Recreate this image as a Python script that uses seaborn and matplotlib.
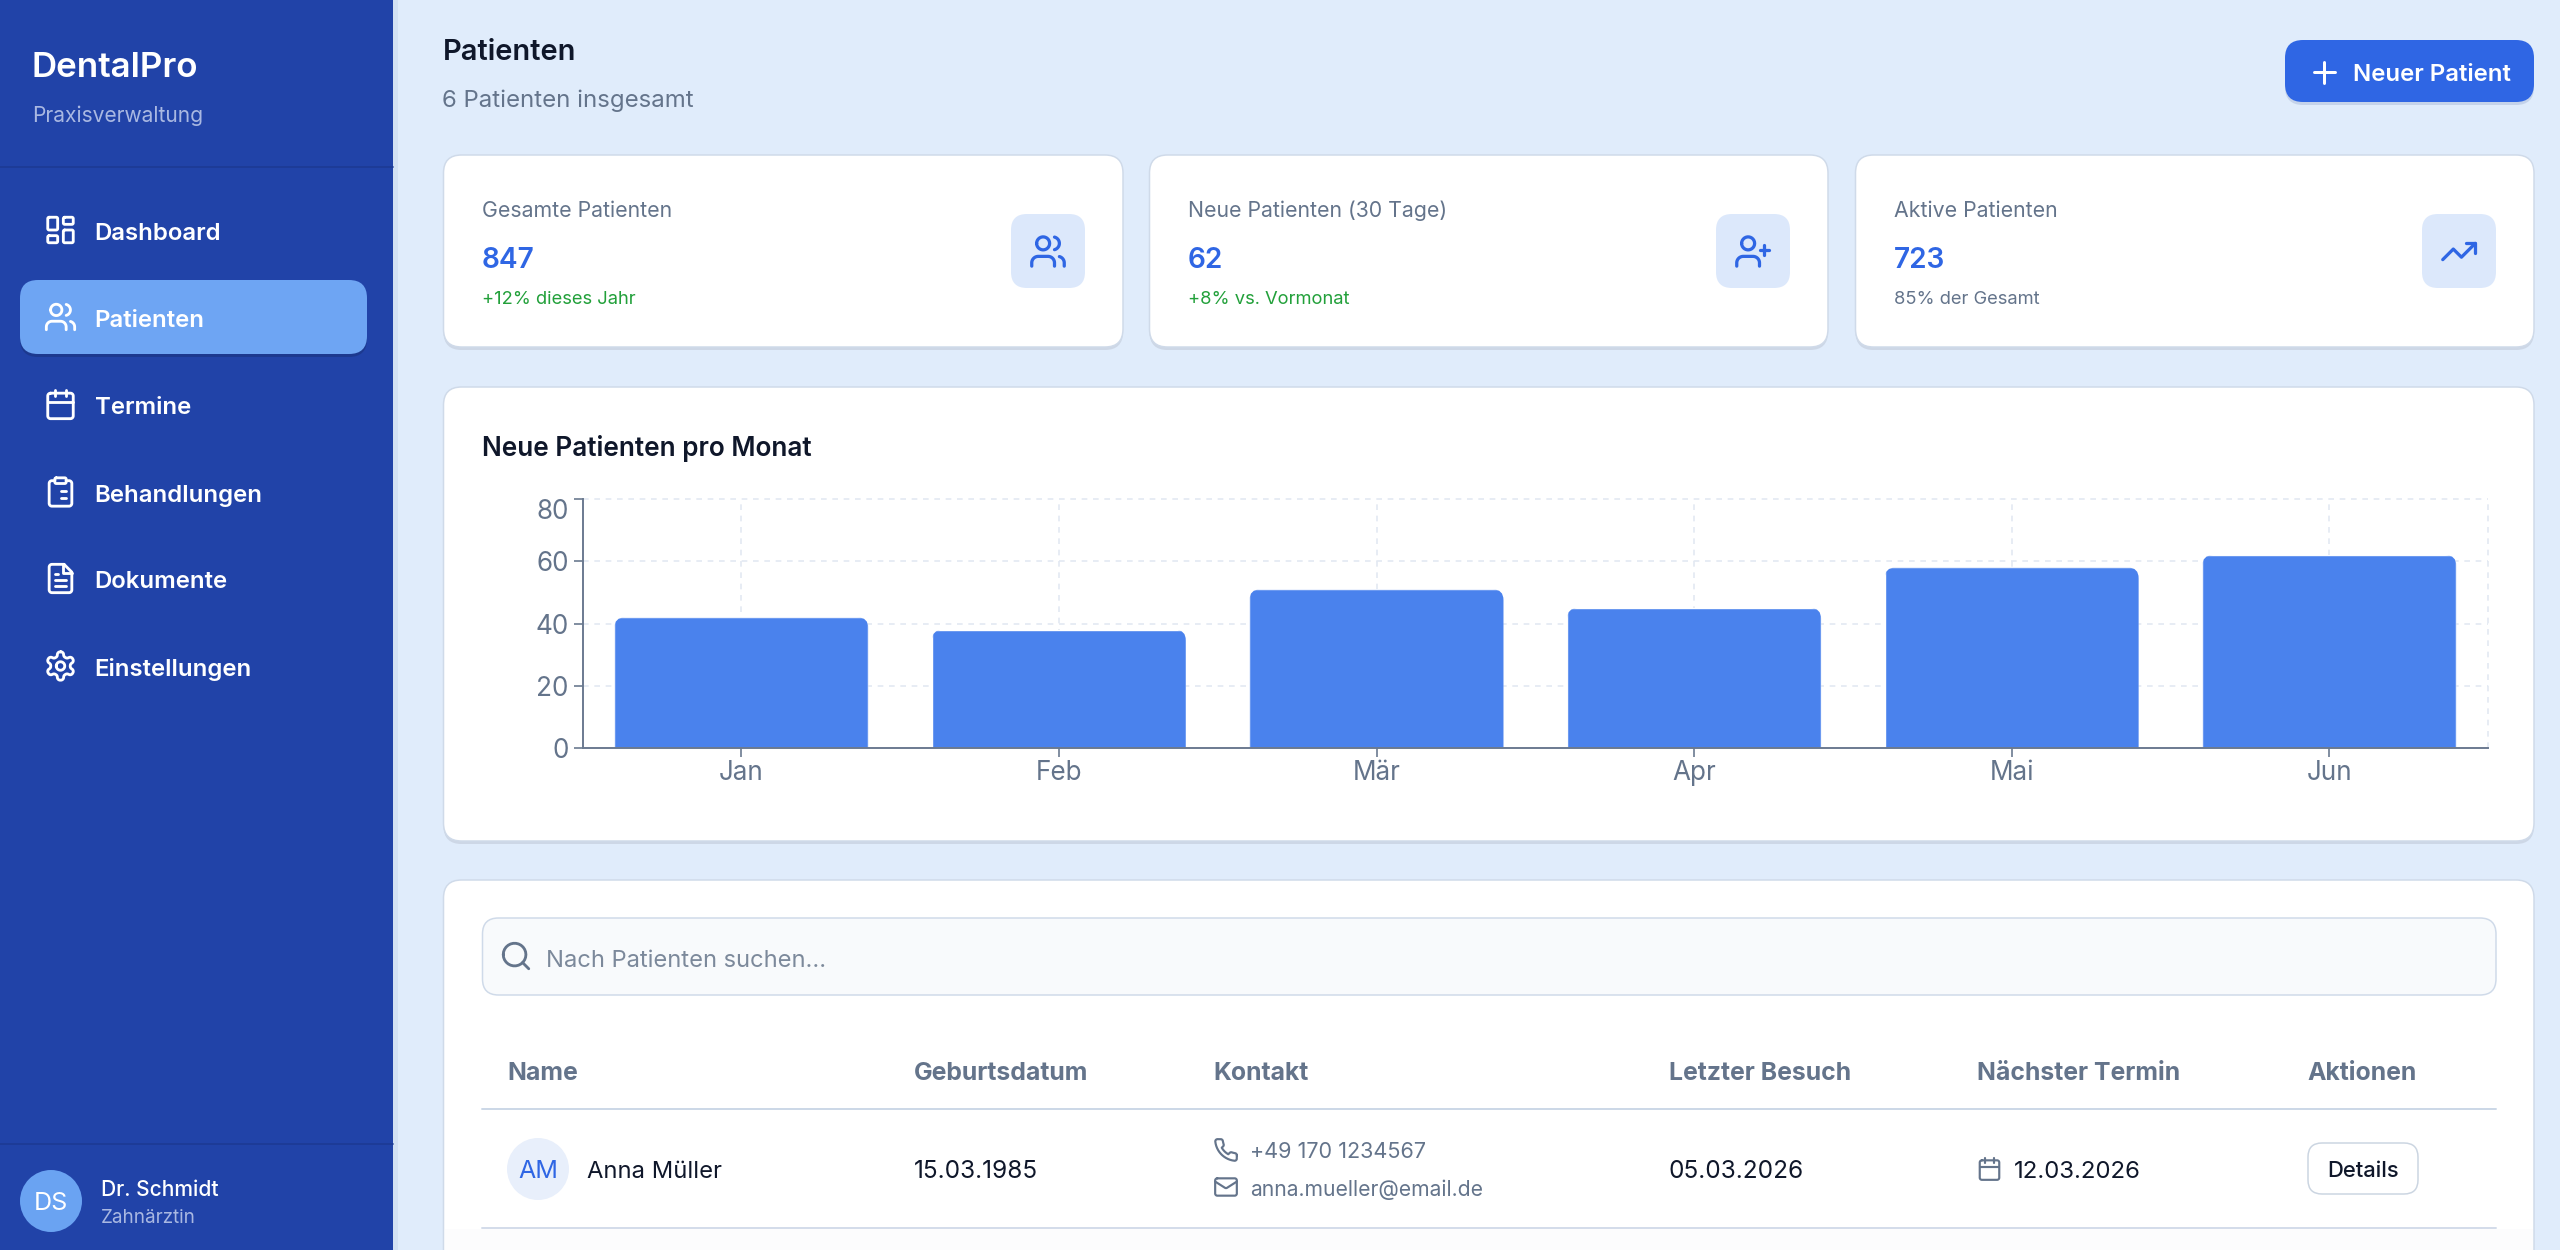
import re
import numpy as np
import pandas as pd
import matplotlib
matplotlib.use("Agg")
import matplotlib.pyplot as plt
import seaborn as sns
from matplotlib.patches import FancyBboxPatch, Circle, Rectangle, PathPatch
from matplotlib.path import Path

# chart data
months = ["Jan", "Feb", "Mär", "Apr", "Mai", "Jun"]
new_patients = [42, 38, 51, 45, 58, 62]
y_ticks = [0, 20, 40, 60, 80]

# page content
nav_labels = ["Dashboard", "Patienten", "Termine", "Behandlungen", "Dokumente", "Einstellungen"]
nav_icons = ["dashboard", "users", "calendar", "clipboard", "file", "settings"]
nav_y = [230, 317, 404.5, 492, 578.5, 666]
kpi_labels = ["Gesamte Patienten", "Neue Patienten (30 Tage)", "Aktive Patienten"]
kpi_values = ["847", "62", "723"]
kpi_notes = ["+12% dieses Jahr", "+8% vs. Vormonat", "85% der Gesamt"]
kpi_icons = ["users", "userplus", "trending"]
table_heads = ["Name", "Geburtsdatum", "Kontakt", "Letzter Besuch", "Nächster Termin", "Aktionen"]
table_x = [507, 914, 1213.5, 1669, 1977, 2307.5]

BG = "#e0ecfb"
SIDEBAR = "#2143a8"
BLUE = "#2f66e4"
BAR = "#4a82ed"
SLATE = "#64748b"
DARK = "#0f172a"
BORDER = "#cfdae9"

ICONS = {
    "dashboard": ["M4 3h5a1 1 0 0 1 1 1v7a1 1 0 0 1-1 1H4a1 1 0 0 1-1-1V4a1 1 0 0 1 1-1z",
                  "M15 3h5a1 1 0 0 1 1 1v3a1 1 0 0 1-1 1h-5a1 1 0 0 1-1-1V4a1 1 0 0 1 1-1z",
                  "M15 12h5a1 1 0 0 1 1 1v7a1 1 0 0 1-1 1h-5a1 1 0 0 1-1-1v-7a1 1 0 0 1 1-1z",
                  "M4 16h5a1 1 0 0 1 1 1v3a1 1 0 0 1-1 1H4a1 1 0 0 1-1-1v-3a1 1 0 0 1 1-1z"],
    "users": ["M16 21v-2a4 4 0 0 0-4-4H6a4 4 0 0 0-4 4v2", "M5 7a4 4 0 1 0 8 0a4 4 0 1 0-8 0",
              "M22 21v-2a4 4 0 0 0-3-3.87", "M16 3.13a4 4 0 0 1 0 7.75"],
    "userplus": ["M16 21v-2a4 4 0 0 0-4-4H6a4 4 0 0 0-4 4v2", "M5 7a4 4 0 1 0 8 0a4 4 0 1 0-8 0",
                 "M19 8v6", "M22 11h-6"],
    "trending": ["M22 7L13.5 15.5L8.5 10.5L2 17", "M16 7h6v6"],
    "calendar": ["M5 4h14a2 2 0 0 1 2 2v14a2 2 0 0 1-2 2H5a2 2 0 0 1-2-2V6a2 2 0 0 1 2-2z",
                 "M16 2v4", "M8 2v4", "M3 10h18"],
    "clipboard": ["M9 2h6a1 1 0 0 1 1 1v2a1 1 0 0 1-1 1H9a1 1 0 0 1-1-1V3a1 1 0 0 1 1-1z",
                  "M16 4h2a2 2 0 0 1 2 2v14a2 2 0 0 1-2 2H6a2 2 0 0 1-2-2V6a2 2 0 0 1 2-2h2",
                  "M12 11h4", "M12 16h4", "M8 11h.01", "M8 16h.01"],
    "file": ["M14.5 2H6a2 2 0 0 0-2 2v16a2 2 0 0 0 2 2h12a2 2 0 0 0 2-2V7.5L14.5 2z",
             "M14 2v6h6", "M16 13H8", "M16 17H8", "M10 9H8"],
    "settings": ["M12.22 2h-.44a2 2 0 0 0-2 2v.18a2 2 0 0 1-1 1.73l-.43.25a2 2 0 0 1-2 0l-.15-.08a2 2 0 0 0-2.73.73l-.22.38a2 2 0 0 0 .73 2.73l.15.1a2 2 0 0 1 1 1.72v.51a2 2 0 0 1-1 1.74l-.15.09a2 2 0 0 0-.73 2.73l.22.38a2 2 0 0 0 2.73.73l.15-.08a2 2 0 0 1 2 0l.43.25a2 2 0 0 1 1 1.73V20a2 2 0 0 0 2 2h.44a2 2 0 0 0 2-2v-.18a2 2 0 0 1 1-1.73l.43-.25a2 2 0 0 1 2 0l.15.08a2 2 0 0 0 2.73-.73l.22-.39a2 2 0 0 0-.73-2.73l-.15-.08a2 2 0 0 1-1-1.74v-.5a2 2 0 0 1 1-1.74l.15-.09a2 2 0 0 0 .73-2.73l-.22-.38a2 2 0 0 0-2.73-.73l-.15.08a2 2 0 0 1-2 0l-.43-.25a2 2 0 0 1-1-1.73V4a2 2 0 0 0-2-2z",
                 "M9 12a3 3 0 1 0 6 0a3 3 0 1 0-6 0"],
    "plus": ["M5 12h14", "M12 5v14"],
    "search": ["M3 11a8 8 0 1 0 16 0a8 8 0 1 0-16 0", "M21 21L16.65 16.65"],
    "phone": ["M22 16.92v3a2 2 0 0 1-2.18 2 19.79 19.79 0 0 1-8.63-3.07 19.5 19.5 0 0 1-6-6 19.79 19.79 0 0 1-3.07-8.67A2 2 0 0 1 4.11 2h3a2 2 0 0 1 2 1.72 12.84 12.84 0 0 0 .7 2.81 2 2 0 0 1-.45 2.11L8.09 9.91a16 16 0 0 0 6 6l1.27-1.27a2 2 0 0 1 2.11-.45 12.84 12.84 0 0 0 2.81.7A2 2 0 0 1 22 16.92z"],
    "mail": ["M4 4h16a2 2 0 0 1 2 2v12a2 2 0 0 1-2 2H4a2 2 0 0 1-2-2V6a2 2 0 0 1 2-2z",
             "M22 7L13.03 12.7a1.94 1.94 0 0 1-2.06 0L2 7"],
}


def arc_points(p0, rx, ry, large, sweep, p1):
    # svg endpoint arc, circles only need this much
    x0, y0 = p0
    x1, y1 = p1
    dx, dy = (x0 - x1) / 2, (y0 - y1) / 2
    lam = dx**2 / rx**2 + dy**2 / ry**2
    if lam > 1:
        rx, ry = rx * np.sqrt(lam), ry * np.sqrt(lam)
    num = max(rx**2 * ry**2 - rx**2 * dy**2 - ry**2 * dx**2, 0)
    den = rx**2 * dy**2 + ry**2 * dx**2
    k = np.sqrt(num / den) * (-1 if large == sweep else 1)
    cx_, cy_ = k * rx * dy / ry, -k * ry * dx / rx
    cx, cy = cx_ + (x0 + x1) / 2, cy_ + (y0 + y1) / 2
    a0 = np.arctan2((dy - cy_) / ry, (dx - cx_) / rx)
    a1 = np.arctan2((-dy - cy_) / ry, (-dx - cx_) / rx)
    if sweep and a1 < a0:
        a1 += 2 * np.pi
    if not sweep and a1 > a0:
        a1 -= 2 * np.pi
    t = np.linspace(a0, a1, 14)[1:]
    return list(zip(cx + rx * np.cos(t), cy + ry * np.sin(t)))


def svg_points(d):
    tokens = re.findall(r"[a-zA-Z]|-?\d*\.?\d+", d)
    pts, cur, i, cmd = [], (0.0, 0.0), 0, ""
    while i < len(tokens):
        if tokens[i].isalpha():
            cmd = tokens[i]
            i += 1
            if cmd in "zZ":
                pts.append(pts[0])
                continue
        rel = cmd.islower()
        c = cmd.lower()
        n = {"m": 2, "l": 2, "h": 1, "v": 1, "a": 7}[c]
        v = [float(t) for t in tokens[i:i + n]]
        i += n
        if c in "ml":
            new = (cur[0] + v[0], cur[1] + v[1]) if rel else (v[0], v[1])
            pts.append(new)
        elif c == "h":
            new = (cur[0] + v[0] if rel else v[0], cur[1])
            pts.append(new)
        elif c == "v":
            new = (cur[0], cur[1] + v[0] if rel else v[0])
            pts.append(new)
        else:
            new = (cur[0] + v[5], cur[1] + v[6]) if rel else (v[5], v[6])
            pts.extend(arc_points(cur, v[0], v[1], bool(v[3]), bool(v[4]), new))
        cur = new
    return pts


sns.set_theme(style="white")
plt.rcParams["font.family"] = ["Inter", "DejaVu Sans"]

fig = plt.figure(figsize=(25.6, 12.5), dpi=100, facecolor=BG)
page = fig.add_axes([0, 0, 1, 1], zorder=0)
page.set_xlim(0, 2560)
page.set_ylim(1250, 0)
page.axis("off")


def label(x, y, s, size, color=DARK, weight="normal", ha="left", ax=page):
    # y is the middle of the capitals, size in pixels
    ax.text(x, y + 1 + 0.36 * size, s, fontsize=size * 0.72, color=color, weight=weight,
            ha=ha, va="baseline", zorder=6)


def round_box(x0, y0, x1, y1, r, fc, ec="none", lw=0, z=1, ax=page):
    box = FancyBboxPatch((x0 + r, y0 + r), x1 - x0 - 2 * r, y1 - y0 - 2 * r,
                         boxstyle=f"round,pad={r},rounding_size={r}", fc=fc, ec=ec,
                         lw=lw * 0.72, zorder=z)
    ax.add_patch(box)
    return box


def icon(name, cx, cy, box, color, lw=2.0, ax=page):
    s = box / 24
    for d in ICONS[name]:
        pts = np.array(svg_points(d))
        pts = (pts - 12) * s + [cx, cy]
        ax.add_patch(PathPatch(Path(pts), fill=False, ec=color, lw=lw * s * 0.72,
                               capstyle="round", joinstyle="round", zorder=4))


def card(x0, y0, x1, y1):
    round_box(x0, y0 + 3, x1, y1 + 3, 18, "#cdd7e6", z=1)
    round_box(x0, y0, x1, y1, 18, "white", BORDER, 1.5, z=2)


# sidebar
page.add_patch(Rectangle((393, 0), 5, 1250, fc="#d3e1f3", ec="none", zorder=0.5))
page.add_patch(Rectangle((0, 0), 393, 1250, fc=SIDEBAR, ec="none", zorder=1))
page.plot([0, 393], [167, 167], color="#1d3a94", lw=1.2, zorder=2)
page.plot([0, 393], [1144, 1144], color="#1d3a94", lw=1.2, zorder=2)
label(32, 63, "DentalPro", 35, "white", "semibold")
label(32.5, 113, "Praxisverwaltung", 21, "#a9b8e2")
round_box(20, 283, 367, 357, 18, "#1c398f", z=1.5)
round_box(20, 280, 367, 354, 18, "#6ea5f3", z=2)
for name, ic, y in zip(nav_labels, nav_icons, nav_y):
    icon(ic, 60.5, y, 34, "white")
    label(94.5, y, name, 24, "white", "semibold")
page.add_patch(Circle((51, 1201), 31, fc="#6aa3f2", ec="none", zorder=2))
label(51, 1200, "DS", 25, "white", ha="center")
label(101, 1187, "Dr. Schmidt", 21, "white", "medium")
label(101, 1215, "Zahnärztin", 18.8, "#a9b8e2")

# header
label(442.5, 49, "Patienten", 29, DARK, "semibold")
label(442.5, 97.5, "6 Patienten insgesamt", 24, SLATE)
round_box(2285, 43, 2534, 105, 18, "#c5d3ea", z=1)
round_box(2285, 40, 2534, 102, 18, BLUE, z=2)
icon("plus", 2324, 72, 36, "white")
label(2353, 71, "Neuer Patient", 24, "white", "semibold")

# kpi cards
for i, (x0, x1, ix) in enumerate([(443.5, 1123, 1048), (1149.5, 1828, 1753), (1855.5, 2534, 2459)]):
    card(x0, y0=155, x1=x1, y1=347)
    tx = x0 + 38
    label(tx, 208, kpi_labels[i], 21.3, SLATE)
    label(tx, 257, kpi_values[i], 28, BLUE, "semibold")
    label(tx, 296, kpi_notes[i], 18.4, "#22a03a" if i < 2 else SLATE)
    round_box(ix - 37, 214, ix + 37, 288, 16, "#dce8fb", z=3)
    icon(kpi_icons[i], ix, 251.5, 39, BLUE)

# chart card
card(443.5, 387, 2534, 841)
label(482, 445.5, "Neue Patienten pro Monat", 26.2, DARK, "semibold")

df = pd.DataFrame({"month": months, "patients": new_patients})
ax = fig.add_axes([582.5 / 2560, (1250 - 748) / 1250, 1905.6 / 2560, 249 / 1250], zorder=3)
ax.patch.set_alpha(0)
sns.barplot(data=df, x="month", y="patients", color=BAR, saturation=1, width=0.8, ax=ax, zorder=3)
ax.set_xlim(-0.5, 5.5)
ax.set_ylim(0, 80)
ax.set_yticks(y_ticks)
ax.set_xlabel("")
ax.set_ylabel("")
sns.despine(ax=ax)
for s in ["left", "bottom"]:
    ax.spines[s].set_color("#6b7a90")
    ax.spines[s].set_linewidth(1.4)
    ax.spines[s].set_zorder(6)
ax.tick_params(axis="both", length=6.5, width=1.2, color="#6b7a90", labelcolor=SLATE,
               labelsize=18.8, pad=3.5, left=True, bottom=True)
ax.tick_params(axis="x", pad=2.5)
grid_style = dict(color="#e3e9f2", lw=1.2, dashes=(3.4, 3.4), zorder=1, clip_on=False)
for v in y_ticks[1:]:
    ax.axhline(v, **grid_style)
for v in list(range(len(months))) + [5.5]:
    ax.axvline(v, **grid_style)
ylabels = ax.get_yticklabels()
for t in ylabels:
    t.set_verticalalignment("center_baseline")
ylabels[-1].set_verticalalignment("top")

# rounded top corners, the lower corners hang below the axis
fig.canvas.draw()
to_page = ax.transData + page.transData.inverted()
for bar in ax.patches:
    (px0, py0), (px1, py1) = to_page.transform(
        [(bar.get_x(), bar.get_y() + bar.get_height()), (bar.get_x() + bar.get_width(), bar.get_y())])
    r = 11
    clip = FancyBboxPatch((px0 + r, py0 + r), px1 - px0 - 2 * r, py1 - py0,
                          boxstyle=f"round,pad={r},rounding_size={r}", transform=page.transData)
    bar.set_clip_path(clip)

# table card, runs off the bottom of the page
card(443.5, 880, 2534, 1300)
page.add_patch(Rectangle((445, 1229), 2088, 21, fc="#fcfcfd", ec="none", zorder=2.5))
round_box(482.5, 918, 2496, 995, 16, "#f8fafc", BORDER, 1.5, z=3)
icon("search", 516, 956, 34, SLATE)
label(545.5, 957, "Nach Patienten suchen...", 23.7, "#7c899b")
for x, head in zip(table_x, table_heads):
    label(x, 1070.5, head, 24.8, SLATE, "bold")
page.plot([482, 2496], [1109, 1109], color="#cbd7e7", lw=1.4, zorder=3)
page.plot([482, 2496], [1228, 1228], color="#d3dcea", lw=1.4, zorder=3)
page.add_patch(Circle((538, 1169), 31, fc="#e8effb", ec="none", zorder=3))
label(538, 1168, "AM", 25, BLUE, ha="center")
label(587, 1168.5, "Anna Müller", 23.8)
label(914, 1168, "15.03.1985", 24.4)
icon("phone", 1226, 1150, 26, SLATE)
label(1250, 1149, "+49 170 1234567", 21.6, SLATE)
icon("mail", 1226, 1187, 26, SLATE)
label(1250, 1187, "anna.mueller@email.de", 21.1, SLATE)
label(1669, 1168, "05.03.2026", 24.4)
icon("calendar", 1989.5, 1169, 26, SLATE)
label(2014, 1168, "12.03.2026", 24)
round_box(2308, 1143, 2418, 1194, 14, "white", "#cbd5e1", 1.5, z=3)
label(2363, 1168, "Details", 22, DARK, "medium", ha="center")

fig.savefig("out.png", dpi=100, facecolor=BG)
